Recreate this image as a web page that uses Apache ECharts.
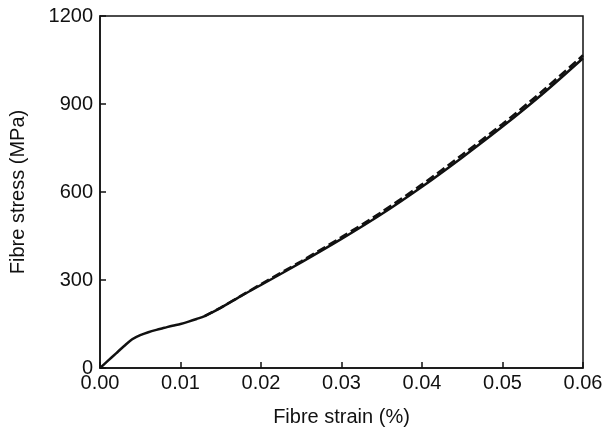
<!DOCTYPE html>
<html><head><meta charset="utf-8">
<script src="https://cdn.jsdelivr.net/npm/echarts@6/dist/echarts.min.js"></script>
<style>html,body{margin:0;padding:0;background:#fff}#c{width:607px;height:436px}</style>
</head><body><div id="c"></div>
<script>
const strainSolid = [0, 0.001, 0.002, 0.003, 0.004, 0.005, 0.006, 0.007, 0.008, 0.009, 0.010, 0.011, 0.012, 0.013, 0.015, 0.0175, 0.02, 0.025, 0.03, 0.035, 0.04, 0.045, 0.05, 0.055, 0.06];
const stressSolid = [0, 25, 50, 75, 98, 112, 122, 130, 137, 144, 150, 158, 167, 177, 205, 245, 283, 360, 440, 525, 618, 718, 823, 935, 1056];
const strainDashed = [0.013, 0.015, 0.0175, 0.02, 0.025, 0.03, 0.035, 0.04, 0.045, 0.05, 0.055, 0.06];
const stressDashed = [177, 206, 246, 286, 364, 446, 532, 626, 727, 832, 945, 1066];
const xTicks = [0, 0.01, 0.02, 0.03, 0.04, 0.05, 0.06];
const yTicks = [0, 300, 600, 900, 1200];

const font = 'Liberation Sans, Arial, sans-serif';
const chart = echarts.init(document.getElementById('c'), null, {renderer: 'canvas'});
chart.setOption({
  animation: false,
  grid: {left: 99, right: 24, top: 16, bottom: 68, show: true, borderColor: '#111', borderWidth: 1.5, backgroundColor: 'transparent'},
  xAxis: {
    type: 'value', min: 0, max: 0.06, interval: 0.01,
    name: 'Fibre strain (%)', nameLocation: 'middle', nameGap: 39,
    nameTextStyle: {fontFamily: font, fontSize: 20, color: '#111'},
    axisLine: {show: true, onZero: false, lineStyle: {color: '#111', width: 1.5}},
    axisTick: {show: true, inside: true, length: 6, lineStyle: {color: '#111', width: 1.5}},
    axisLabel: {fontFamily: font, fontSize: 20, color: '#111', margin: 5, formatter: v => v.toFixed(2)},
    splitLine: {show: false}
  },
  yAxis: {
    type: 'value', min: 0, max: 1200, interval: 300,
    name: 'Fibre stress (MPa)', nameLocation: 'middle', nameGap: 72,
    nameTextStyle: {fontFamily: font, fontSize: 20, color: '#111'},
    axisLine: {show: true, lineStyle: {color: '#111', width: 1.5}},
    axisTick: {show: true, inside: true, length: 6, lineStyle: {color: '#111', width: 1.5}},
    axisLabel: {fontFamily: font, fontSize: 20, color: '#111', margin: 7, formatter: v => String(v)},
    splitLine: {show: false}
  },
  series: [
    {type: 'line', data: strainSolid.map((x, i) => [x, stressSolid[i]]), symbol: 'none', smooth: 0.3,
     lineStyle: {color: '#111', width: 2.5}},
    {type: 'line', data: strainDashed.map((x, i) => [x, stressDashed[i]]), symbol: 'none', smooth: 0.3,
     lineStyle: {color: '#111', width: 2.5, type: [9, 4]}}
  ]
});
</script></body></html>
